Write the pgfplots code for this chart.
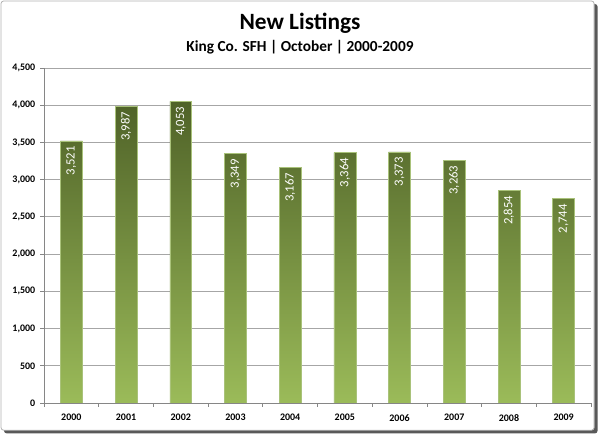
\documentclass[border=0pt]{standalone}
\usepackage{pgfplots}
\pgfplotsset{compat=1.18}
\usepackage{fontspec}
\setmainfont{Carlito}
\definecolor{bartop}{HTML}{4F6228}
\definecolor{barbot}{HTML}{9BBB59}
\definecolor{baredge}{HTML}{A9C27A}
\definecolor{gridc}{HTML}{A6A6A6}
\definecolor{axc}{HTML}{868686}
\begin{document}
\begin{tikzpicture}
\useasboundingbox (0,0) rectangle (450pt,326.25pt);
% frame with shadow
\fill[black!65, rounded corners=2pt] (3pt,1.2pt) rectangle (448.2pt,323.2pt);
\fill[white, draw=black!30, line width=0.6pt, rounded corners=2pt] (0.75pt,3.6pt) rectangle (445.6pt,325.5pt);
\node[anchor=base, font=\bfseries\fontsize{17.5}{20}\selectfont] at (225pt,303.75pt) {New Listings};
\node[anchor=base, font=\bfseries\fontsize{11.5}{13}\selectfont] at (225pt,287.4pt) {King Co. SFH | October | 2000-2009};
\begin{axis}[
  at={(33pt,24pt)}, anchor=south west,
  scale only axis, width=410.25pt, height=251.25pt,
  xmin=-0.5, xmax=9.5, ymin=0, ymax=4500,
  axis x line=bottom, axis y line=left,
  axis line style={-, draw=axc, line width=0.6pt},
  ytick={0,500,...,4500},
  ymajorgrids, grid style={draw=gridc, line width=0.6pt},
  xtick={0,...,9},
  xticklabels={2000,2001,2002,2003,2004,2005,2006,2007,2008,2009},
  minor xtick={-0.5,0.5,...,9.5},
  tick align=outside,
  major tick length=3pt, minor tick length=3pt,
  major x tick style={draw=none},
  minor x tick style={draw=axc, line width=0.6pt},
  ytick style={draw=axc, line width=0.6pt},
  scaled y ticks=false,
  /pgf/number format/.cd, 1000 sep={,}, assume math mode=true, /pgfplots/.cd,
  ticklabel style={font=\bfseries\fontsize{7.5}{9}\selectfont},
  xticklabel style={yshift=-2pt},
  ybar, bar width=0.4,
  nodes near coords,
  every node near coord/.append style={rotate=90, anchor=east, text=white,
    font=\fontsize{9.5}{11}\selectfont, inner xsep=4pt},
]
\addplot[draw=baredge, line width=0.4pt, top color=bartop, bottom color=barbot]
  coordinates {(0,3521) (1,3987) (2,4053) (3,3349) (4,3167) (5,3364) (6,3373) (7,3263) (8,2854) (9,2744)};
\end{axis}
\end{tikzpicture}
\end{document}
